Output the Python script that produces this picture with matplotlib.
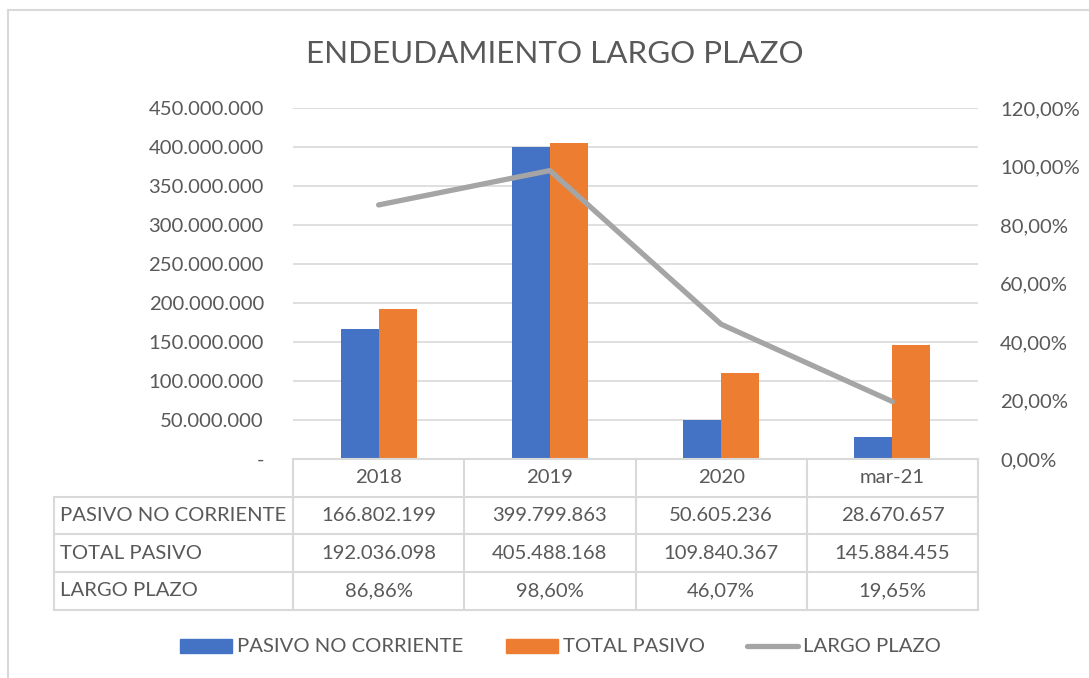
import numpy as np
import matplotlib.pyplot as plt
from matplotlib.lines import Line2D
from matplotlib.patches import Rectangle

plt.rcParams['font.family'] = ['Lato', 'DejaVu Sans']

# datos
categorias = ['2018', '2019', '2020', 'mar-21']
pasivo_no_corriente = [166802199, 399799863, 50605236, 28670657]
total_pasivo = [192036098, 405488168, 109840367, 145884455]
largo_plazo = [0.8686, 0.9860, 0.4607, 0.1965]
series = ['PASIVO NO CORRIENTE', 'TOTAL PASIVO', 'LARGO PLAZO']

AZUL = '#4472C4'
NARANJA = '#ED7D31'
GRIS = '#A5A5A5'
TXT = '#595959'
LINEA = '#D9D9D9'
FS = 14.6

W, H = 1089, 678


def fx(x):
    return x / W


def fy(y):
    return 1 - y / H


def miles(v):
    return f'{v:,}'.replace(',', '.')


def pct(v):
    return f'{v * 100:.2f}%'.replace('.', ',')


fig = plt.figure(figsize=(W / 100, H / 100), dpi=100)

# marco exterior
fig.add_artist(Line2D([fx(8), 1], [fy(10), fy(10)], color=LINEA, lw=1.5))
fig.add_artist(Line2D([fx(8), fx(8)], [fy(10), 0], color=LINEA, lw=1.5))

x0, x1, ytop, ybot = 293, 978, 108, 459
ax = fig.add_axes([fx(x0), fy(ybot), fx(x1 - x0), (ybot - ytop) / H])
x = np.arange(len(categorias))
bw = 0.222
ax.bar(x - bw / 2, pasivo_no_corriente, bw, color=AZUL, zorder=3)
ax.bar(x + bw / 2, total_pasivo, bw, color=NARANJA, zorder=3)
ax.set_xlim(-0.5, len(categorias) - 0.5)
ax.set_ylim(0, 450000000)
yt = np.arange(0, 450000001, 50000000)
ax.set_yticks(yt)
ax.set_yticklabels(['-' if v == 0 else miles(int(v)) for v in yt])
ax.set_xticks([])
ax.tick_params(axis='y', length=0, pad=21, labelsize=FS, labelcolor=TXT)
ax.grid(axis='y', color=LINEA, lw=1.2, zorder=0)
for s in ax.spines.values():
    s.set_visible(False)

ax2 = ax.twinx()
ax2.plot(x, largo_plazo, color=GRIS, lw=3.8, solid_capstyle='round', zorder=4)
ax2.set_ylim(0, 1.2)
pt = np.arange(0, 1.21, 0.2)
ax2.set_yticks(pt)
ax2.set_yticklabels([pct(v) for v in pt])
ax2.tick_params(axis='y', length=0, pad=16, labelsize=FS, labelcolor=TXT)
for s in ax2.spines.values():
    s.set_visible(False)

fig.text(fx(555), fy(54), 'ENDEUDAMIENTO LARGO PLAZO', ha='center', va='center',
         fontsize=22.6, color=TXT)

# tabla de datos
filas = [459, 496.7, 534.4, 572.1, 609.8]
tx0 = 54
cw = (x1 - x0) / len(categorias)
cols = [x0 + i * cw for i in range(len(categorias) + 1)]
fig.add_artist(Line2D([fx(x0), fx(x1)], [fy(filas[0])] * 2, color=LINEA, lw=1.5))
for yy in filas[1:]:
    fig.add_artist(Line2D([fx(tx0), fx(x1)], [fy(yy)] * 2, color=LINEA, lw=1.5))
for xx in cols:
    fig.add_artist(Line2D([fx(xx)] * 2, [fy(filas[0]), fy(filas[-1])], color=LINEA, lw=1.5))
fig.add_artist(Line2D([fx(tx0)] * 2, [fy(filas[1]), fy(filas[-1])], color=LINEA, lw=1.5))

for i, c in enumerate(categorias):
    fig.text(fx(cols[i] + cw / 2), fy((filas[0] + filas[1]) / 2), c,
             ha='center', va='center', fontsize=FS, color=TXT)

valores = [[miles(v) for v in pasivo_no_corriente],
           [miles(v) for v in total_pasivo],
           [pct(v) for v in largo_plazo]]
for r, (nombre, vals) in enumerate(zip(series, valores)):
    yc = fy((filas[r + 1] + filas[r + 2]) / 2)
    fig.text(fx(60), yc, nombre, ha='left', va='center', fontsize=FS, color=TXT)
    for i, v in enumerate(vals):
        fig.text(fx(cols[i] + cw / 2), yc, v, ha='center', va='center',
                 fontsize=FS, color=TXT)

# leyenda
ly = 646
fig.add_artist(Rectangle((fx(180), fy(653)), fx(52), 14 / H, color=AZUL))
fig.text(fx(237), fy(ly), series[0], ha='left', va='center', fontsize=FS, color=TXT)
fig.add_artist(Rectangle((fx(506), fy(653)), fx(52), 14 / H, color=NARANJA))
fig.text(fx(563), fy(ly), series[1], ha='left', va='center', fontsize=FS, color=TXT)
fig.add_artist(Line2D([fx(747), fx(798)], [fy(ly)] * 2, color=GRIS, lw=3.8,
                      solid_capstyle='round'))
fig.text(fx(803), fy(ly), series[2], ha='left', va='center', fontsize=FS, color=TXT)

fig.savefig('out.png', dpi=100, facecolor='white')
